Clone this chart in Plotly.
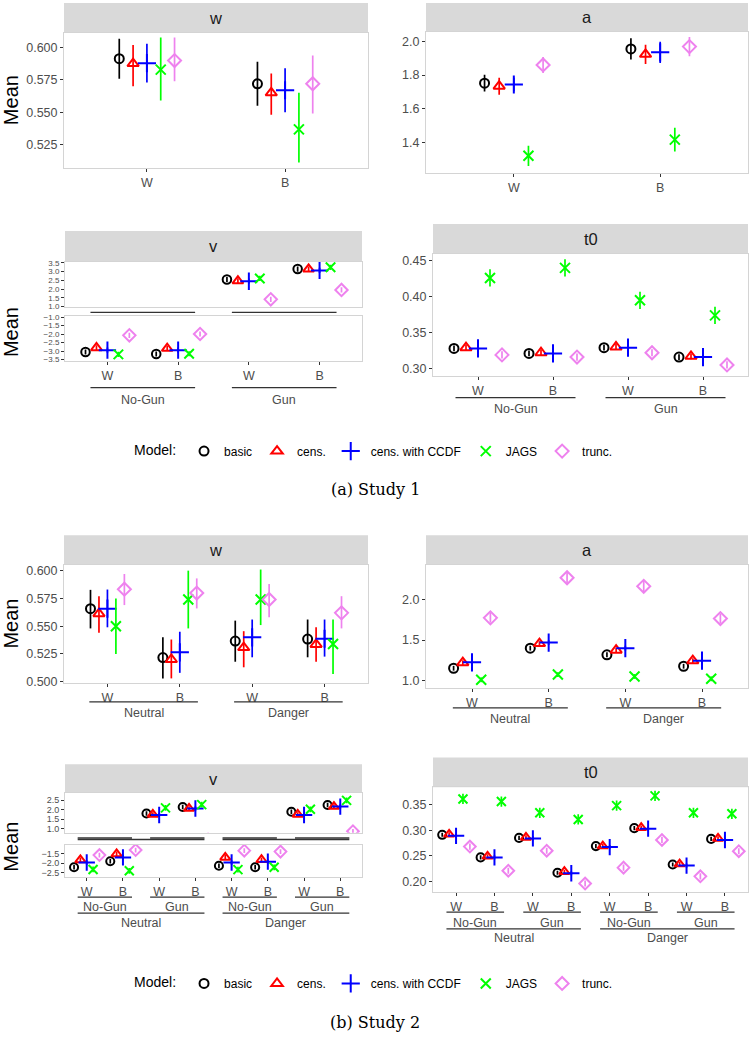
import plotly.graph_objects as go

W_PX, H_PX = 750, 1039

# ---------------- data ----------------
MODELS = ["basic", "cens.", "cens. with CCDF", "JAGS", "trunc."]
COLORS = ["#000000", "#FF0000", "#0000FF", "#00FF00", "#EE82EE"]
SYMBOLS = ["circle-open", "triangle-up-open", "cross-thin-open", "x-thin-open", "diamond-open"]
SIZES = [9, 10, 13, 10, 10]

# Study 1
s1_race2 = ["W", "B"]
s1_race4 = ["W", "B", "W", "B"]
s1_gun = ["No-Gun", "Gun"]

s1_w_mean = [[0.5915, 0.572], [0.5877, 0.565], [0.588, 0.567], [0.583, 0.5366], [0.590, 0.572]]
s1_w_lo = [[0.576, 0.555], [0.570, 0.548], [0.573, 0.550], [0.559, 0.511], [0.574, 0.549]]
s1_w_hi = [[0.607, 0.589], [0.602, 0.580], [0.603, 0.584], [0.608, 0.565], [0.608, 0.594]]

s1_a_mean = [[1.752, 1.955], [1.734, 1.923], [1.744, 1.935], [1.321, 1.417], [1.860, 1.969]]
s1_a_err = [[0.05, 0.063], [0.05, 0.057], [0.04, 0.063], [0.06, 0.07], [0.047, 0.057]]

s1_v_mean = [[-3.05, -3.17, 2.55, 3.15], [-2.80, -2.84, 2.47, 3.15], [-2.94, -2.94, 2.45, 3.07],
             [-3.19, -3.15, 2.61, 3.25], [-2.07, -1.99, 1.41, 1.95]]
s1_v_err = [[0.15, 0.15, 0.15, 0.15], [0.15, 0.15, 0.15, 0.15], [0.15, 0.15, 0.15, 0.15],
            [0.15, 0.15, 0.15, 0.15], [0.15, 0.15, 0.15, 0.15]]

s1_t0_mean = [[0.328, 0.321, 0.329, 0.316], [0.329, 0.322, 0.330, 0.317], [0.328, 0.321, 0.329, 0.316],
              [0.426, 0.440, 0.395, 0.374], [0.319, 0.316, 0.322, 0.305]]
s1_t0_err = [[0.004, 0.004, 0.004, 0.004], [0.004, 0.004, 0.004, 0.004], [0.004, 0.004, 0.004, 0.004],
             [0.012, 0.012, 0.012, 0.012], [0.005, 0.005, 0.005, 0.005]]

# Study 2
s2_race4 = ["W", "B", "W", "B"]
s2_race8 = ["W", "B", "W", "B", "W", "B", "W", "B"]
s2_context = ["Neutral", "Danger"]
s2_gun = ["No-Gun", "Gun", "No-Gun", "Gun"]

s2_w_mean = [[0.5658, 0.5217, 0.5366, 0.5384], [0.5613, 0.520, 0.5307, 0.5336], [0.5658, 0.5265, 0.540, 0.5387],
             [0.550, 0.574, 0.574, 0.534], [0.5833, 0.5798, 0.574, 0.562]]
s2_w_lo = [[0.548, 0.503, 0.518, 0.522], [0.544, 0.503, 0.513, 0.518], [0.549, 0.508, 0.522, 0.5226],
           [0.525, 0.548, 0.551, 0.507], [0.569, 0.566, 0.558, 0.548]]
s2_w_hi = [[0.5827, 0.540, 0.555, 0.556], [0.577, 0.538, 0.5455, 0.549], [0.583, 0.545, 0.556, 0.556],
           [0.575, 0.600, 0.601, 0.556], [0.597, 0.593, 0.588, 0.577]]

s2_a_mean = [[1.151, 1.400, 1.318, 1.176], [1.220, 1.457, 1.375, 1.245], [1.224, 1.469, 1.400, 1.245],
             [1.008, 1.073, 1.049, 1.020], [1.776, 2.273, 2.167, 1.767]]
s2_a_err = [[0.03, 0.03, 0.03, 0.03], [0.03, 0.03, 0.03, 0.03], [0.03, 0.03, 0.03, 0.03],
            [0.03, 0.03, 0.03, 0.03], [0.06, 0.07, 0.07, 0.06]]

s2_v_mean = [[-2.22, -1.91, 1.80, 2.14, -2.14, -2.22, 1.89, 2.24],
             [-1.84, -1.53, 1.75, 2.06, -1.71, -1.83, 1.75, 2.16],
             [-1.97, -1.71, 1.72, 2.06, -1.97, -1.93, 1.72, 2.16],
             [-2.33, -2.40, 2.09, 2.26, -2.34, -2.22, 2.02, 2.48],
             [-1.59, -1.33, 0.35, 0.45, -1.36, -1.41, 0.40, 0.88]]
s2_v_err = [[0.12] * 8, [0.12] * 8, [0.12] * 8, [0.15] * 8, [0.12] * 8]

s2_t0_mean = [[0.291, 0.247, 0.285, 0.217, 0.269, 0.304, 0.233, 0.283],
              [0.292, 0.249, 0.286, 0.219, 0.269, 0.305, 0.234, 0.284],
              [0.289, 0.247, 0.284, 0.216, 0.267, 0.303, 0.231, 0.281],
              [0.361, 0.356, 0.334, 0.321, 0.348, 0.367, 0.334, 0.332],
              [0.268, 0.221, 0.260, 0.196, 0.227, 0.281, 0.210, 0.259]]
s2_t0_err = [[0.004] * 8, [0.004] * 8, [0.004] * 8, [0.010] * 8, [0.006] * 8]

# y tick labels
s1_w_ticks = [0.525, 0.550, 0.575, 0.600]
s1_a_ticks = [1.4, 1.6, 1.8, 2.0]
s1_vu_ticks = [1.0, 1.5, 2.0, 2.5, 3.0, 3.5]
s1_vl_ticks = [-3.5, -3.0, -2.5, -2.0, -1.5, -1.0]
s1_t0_ticks = [0.30, 0.35, 0.40, 0.45]
s2_w_ticks = [0.500, 0.525, 0.550, 0.575, 0.600]
s2_a_ticks = [1.0, 1.5, 2.0]
s2_vu_ticks = [1.0, 1.5, 2.0, 2.5]
s2_vl_ticks = [-2.5, -2.0, -1.5]
s2_t0_ticks = [0.20, 0.25, 0.30, 0.35]

# ---------------- helpers ----------------
def px(y):
    return 1 - y / H_PX


def pxx(x):
    return x / W_PX


fig = go.Figure()
layout = dict(width=W_PX, height=H_PX, margin=dict(l=0, r=0, t=0, b=0),
              paper_bgcolor="white", plot_bgcolor="white",
              font=dict(family="Liberation Sans, Arial, sans-serif", color="#000000"),
              showlegend=True)
shapes = []
annotations = []

TICK_GRAY = "#4d4d4d"
LINE_DARK = "#333333"
BORDER = "#d4d4d4"
TXT = 12.5


def make_axes(n, box, cats, xr, yr, yticks, yfmt, show_x=True, ytick_size=TXT):
    x0, x1, yt, yb = box
    sx = "" if n == 1 else str(n)
    layout["xaxis" + sx] = dict(
        domain=[pxx(x0), pxx(x1)], range=xr, anchor="y" + sx,
        tickvals=list(range(len(cats))), ticktext=cats,
        showgrid=False, zeroline=False, showline=True, mirror=True,
        linecolor=BORDER, linewidth=1,
        ticks="outside" if show_x else "", ticklen=3, tickcolor=LINE_DARK, tickwidth=1,
        showticklabels=show_x, tickfont=dict(size=TXT, color=TICK_GRAY), fixedrange=True)
    layout["yaxis" + sx] = dict(
        domain=[px(yb), px(yt)], range=yr, anchor="x" + sx,
        tickvals=yticks, tickformat=yfmt,
        showgrid=False, zeroline=False, showline=True, mirror=True,
        linecolor=BORDER, linewidth=1,
        ticks="outside", ticklen=3, tickcolor=LINE_DARK, tickwidth=1,
        tickfont=dict(size=ytick_size, color=TICK_GRAY), fixedrange=True)
    return "x" + sx, "y" + sx


def add_points(xa, ya, means, lo=None, hi=None, err=None, dodge=0.1, legend=None, scale=1.0):
    ncat = len(means[0])
    for m in range(len(MODELS)):
        xs = [i + (m - 2) * dodge for i in range(ncat)]
        ys = means[m]
        if err is not None:
            up = err[m]
            dn = err[m]
        else:
            up = [h - v for h, v in zip(hi[m], ys)]
            dn = [v - l for l, v in zip(lo[m], ys)]
        tr = go.Scatter(
            x=xs, y=ys, mode="markers", name=MODELS[m], xaxis=xa, yaxis=ya,
            marker=dict(symbol=SYMBOLS[m], color=COLORS[m], size=SIZES[m] * scale,
                        line=dict(width=2, color=COLORS[m])),
            error_y=dict(type="data", symmetric=False, array=up, arrayminus=dn,
                         width=0, thickness=1.7, color=COLORS[m]),
            showlegend=legend is not None, legend=legend if legend else "legend",
            hoverinfo="skip")
        fig.add_trace(tr)


def strip(x0, x1, yt, yb, label):
    shapes.append(dict(type="rect", xref="paper", yref="paper", x0=pxx(x0), x1=pxx(x1),
                       y0=px(yb), y1=px(yt), fillcolor="#d9d9d9", line=dict(width=0), layer="below"))
    annotations.append(dict(xref="paper", yref="paper", x=pxx((x0 + x1) / 2), y=px((yt + yb) / 2),
                            text=label, showarrow=False, font=dict(size=16.5, color="#1a1a1a"),
                            xanchor="center", yanchor="middle"))


def nested(xa, labels, size, line_y, text_y=None, ext=0.25, lw=1.3):
    for k, lab in enumerate(labels):
        i0, i1 = k * size, k * size + size - 1
        shapes.append(dict(type="line", xref=xa, yref="paper", x0=i0 - ext, x1=i1 + ext,
                           y0=px(line_y), y1=px(line_y), line=dict(color=LINE_DARK, width=lw)))
        if text_y is not None:
            annotations.append(dict(xref=xa, yref="paper", x=(i0 + i1) / 2, y=px(text_y), text=lab,
                                    showarrow=False, font=dict(size=TXT, color=TICK_GRAY),
                                    xanchor="center", yanchor="middle"))


def ylabel(y):
    annotations.append(dict(xref="paper", yref="paper", x=pxx(11), y=px(y), text="Mean",
                            textangle=-90, showarrow=False, font=dict(size=20, color="#000000"),
                            xanchor="center", yanchor="middle"))


# ---------------- Study 1 ----------------
xa, ya = make_axes(1, (64, 368, 30, 166), s1_race2, [-0.6, 1.6], [0.507, 0.6116], s1_w_ticks, ".3f")
add_points(xa, ya, s1_w_mean, lo=s1_w_lo, hi=s1_w_hi, dodge=0.1, legend="legend")
strip(64, 368, 0, 30, "w")

xa, ya = make_axes(2, (426, 748, 29, 171), s1_race2, [-0.6, 1.6], [1.222, 2.057], s1_a_ticks, ".1f")
add_points(xa, ya, s1_a_mean, err=s1_a_err, dodge=0.1)
strip(426, 748, 0, 29, "a")

xa, ya = make_axes(3, (65, 362, 261, 307), s1_race4, [-0.6, 3.6], [0.95, 3.57], s1_vu_ticks, ".1f",
                   show_x=False, ytick_size=8)
add_points(xa, ya, s1_v_mean, err=s1_v_err, dodge=0.155, scale=0.95)
nested(xa, s1_gun, 2, 312, None, ext=0.24)
xa, ya = make_axes(4, (65, 362, 316, 361), s1_race4, [-0.6, 3.6], [-3.57, -0.95], s1_vl_ticks, ".1f",
                   ytick_size=8)
add_points(xa, ya, s1_v_mean, err=s1_v_err, dodge=0.155, scale=0.95)
nested(xa, s1_gun, 2, 388, 400, ext=0.24)
strip(65, 362, 230, 261, "v")

xa, ya = make_axes(5, (433, 748, 253, 376), s1_race4, [-0.6, 3.6], [0.290, 0.4596], s1_t0_ticks, ".2f")
add_points(xa, ya, s1_t0_mean, err=s1_t0_err, dodge=0.16)
nested(xa, s1_gun, 2, 398, 410, ext=0.3)
strip(433, 748, 223, 253, "t0")

ylabel(98)
ylabel(332)

# ---------------- Study 2 ----------------
xa, ya = make_axes(6, (64, 368, 567, 686), s2_race4, [-0.6, 3.6], [0.4988, 0.605], s2_w_ticks, ".3f")
add_points(xa, ya, s2_w_mean, lo=s2_w_lo, hi=s2_w_hi, dodge=0.117, legend="legend2")
nested(xa, s2_context, 2, 705, 716)
strip(64, 368, 537, 567, "w")

xa, ya = make_axes(7, (426, 748, 567, 691), s2_race4, [-0.6, 3.6], [0.906, 2.43], s2_a_ticks, ".1f")
add_points(xa, ya, s2_a_mean, err=s2_a_err, dodge=0.12)
nested(xa, s2_context, 2, 711, 722)
strip(426, 748, 537, 567, "a")

xa, ya = make_axes(8, (65, 362, 797, 837), s2_race8, [-0.6, 7.6], [0.80, 2.86], s2_vu_ticks, ".1f",
                   show_x=False, ytick_size=9)
add_points(xa, ya, s2_v_mean, err=s2_v_err, dodge=0.175, scale=0.9)
nested(xa, s2_gun, 2, 842.3, None)
nested(xa, s2_context, 4, 843.8, None)
xa, ya = make_axes(9, (65, 362, 849, 882), s2_race8, [-0.6, 7.6], [-2.74, -1.05], s2_vl_ticks, ".1f",
                   ytick_size=9)
add_points(xa, ya, s2_v_mean, err=s2_v_err, dodge=0.175, scale=0.9)
nested(xa, s2_gun, 2, 902, 912)
nested(xa, s2_context, 4, 918, 928)
strip(65, 362, 768, 797, "v")

xa, ya = make_axes(10, (433, 748, 791, 897), s2_race8, [-0.6, 7.6], [0.179, 0.384], s2_t0_ticks, ".2f")
add_points(xa, ya, s2_t0_mean, err=s2_t0_err, dodge=0.18, scale=0.9)
nested(xa, s2_gun, 2, 917, 928)
nested(xa, s2_context, 4, 934, 943)
strip(433, 748, 761, 791, "t0")

ylabel(626)
ylabel(851)

# ---------------- legends & captions ----------------
leg = dict(orientation="h", x=0.5, xanchor="center", yanchor="middle",
           title=dict(text="Model:", font=dict(size=14, color="#000000"), side="left"),
           font=dict(size=12, color="#000000"), bgcolor="rgba(0,0,0,0)", itemclick=False,
           itemdoubleclick=False)
layout["legend"] = dict(leg, y=px(452))
layout["legend2"] = dict(leg, y=px(989))

annotations.append(dict(xref="paper", yref="paper", x=0.5, y=px(491), text="(a) Study 1",
                        showarrow=False, font=dict(family="DejaVu Serif, serif", size=16, color="#000000"),
                        xanchor="center", yanchor="middle"))
annotations.append(dict(xref="paper", yref="paper", x=0.5, y=px(1028), text="(b) Study 2",
                        showarrow=False, font=dict(family="DejaVu Serif, serif", size=16, color="#000000"),
                        xanchor="center", yanchor="middle"))

layout["shapes"] = shapes
layout["annotations"] = annotations
fig.update_layout(**layout)
fig.write_html("out.html", config={"displayModeBar": False})
